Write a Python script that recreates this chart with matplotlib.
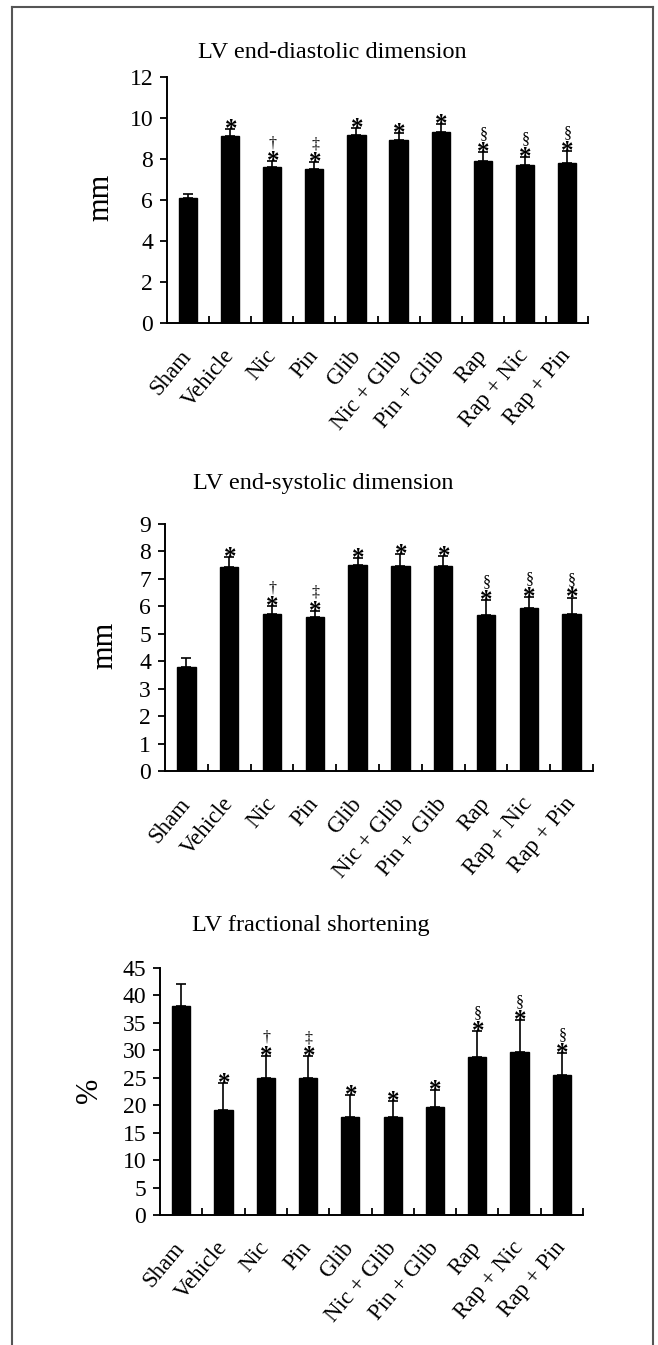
import matplotlib
matplotlib.use("Agg")
import matplotlib.pyplot as plt
from matplotlib.lines import Line2D
from matplotlib.transforms import ScaledTranslation
import numpy as np

plt.rcParams['font.family'] = ['Liberation Serif', 'DejaVu Serif']

groups = ['Sham', 'Vehicle', 'Nic', 'Pin', 'Glib', 'Nic + Glib',
          'Pin + Glib', 'Rap', 'Rap + Nic', 'Rap + Pin']

# LV end-diastolic dimension (mm)
edd_mean = [6.1, 9.1, 7.6, 7.5, 9.15, 8.95, 9.3, 7.9, 7.7, 7.8]
edd_err = [0.2, 0.35, 0.28, 0.35, 0.35, 0.33, 0.4, 0.45, 0.38, 0.6]

# LV end-systolic dimension (mm)
esd_mean = [3.8, 7.42, 5.72, 5.6, 7.49, 7.48, 7.47, 5.67, 5.94, 5.72]
esd_err = [0.33, 0.38, 0.28, 0.24, 0.27, 0.44, 0.38, 0.55, 0.39, 0.6]

# LV fractional shortening (%)
fs_mean = [38.1, 19.1, 25.0, 25.0, 17.8, 17.8, 19.65, 28.7, 29.65, 25.5]
fs_err = [3.9, 4.9, 4.0, 3.9, 4.0, 3.0, 3.15, 4.8, 5.95, 4.0]

# significance marks above each bar (lower, upper)
star = ['', '*', '*', '*', '*', '*', '*', '*', '*', '*']
extra = ['', '', '\u2020', '\u2021', '', '', '', '\u00a7', '\u00a7', '\u00a7']

W, H = 658, 1345
fig = plt.figure(figsize=(W / 100, H / 100), dpi=100)


def px(x0, y0, x1, y1):
    # pixel box -> figure fraction [left, bottom, width, height]
    return [x0 / W, 1 - y1 / H, (x1 - x0) / W, (y1 - y0) / H]


def panel(box, mean, err, ymax, ystep, title, title_xy, ylab, ylab_xy):
    ax = fig.add_axes(px(*box))
    x = np.arange(len(groups))
    ax.bar(x, mean, width=0.43, color='black', edgecolor='black', zorder=2)
    ax.errorbar(x, mean, yerr=[np.zeros(len(mean)), err], fmt='none',
                ecolor='black', elinewidth=1.2, capsize=3.5, capthick=1.2, zorder=1)
    for i in range(len(groups)):
        top = mean[i] + err[i]
        if star[i]:
            ax.annotate(star[i], (i, top), xytext=(0.5, -5), textcoords='offset points',
                        ha='center', va='baseline', fontsize=18, fontweight='bold')
        if extra[i]:
            ax.annotate(extra[i], (i, top), xytext=(0.5, 10), textcoords='offset points',
                        ha='center', va='baseline', fontsize=11.5)
    ax.set_xlim(-0.5, len(groups) - 0.5)
    ax.set_ylim(0, ymax)
    ax.set_yticks(np.arange(0, ymax + 0.1, ystep))
    ax.set_xticks(x)
    ax.set_xticklabels(groups, rotation=50, ha='right', va='center',
                       rotation_mode='anchor', fontsize=16.5)
    shift = ScaledTranslation(4 / 100, 0, fig.dpi_scale_trans)
    for lab in ax.get_xticklabels():
        lab.set_transform(lab.get_transform() + shift)
    ax.set_xticks(x + 0.5, minor=True)
    ax.tick_params(axis='x', which='major', length=0, pad=21)
    ax.tick_params(axis='x', which='minor', direction='in', length=5, width=1.3)
    ax.tick_params(axis='y', direction='out', length=5, width=1.3, labelsize=17, pad=5)
    for s in ['top', 'right']:
        ax.spines[s].set_visible(False)
    for s in ['left', 'bottom']:
        ax.spines[s].set_linewidth(1.4)
    ax.set_facecolor('none')
    fig.text(title_xy[0] / W, 1 - title_xy[1] / H, title, ha='center', va='center',
             fontsize=17.5)
    fig.text(ylab_xy[0] / W, 1 - ylab_xy[1] / H, ylab, ha='center', va='center',
             rotation=90, fontsize=22)
    return ax


panel((167, 77, 588, 323), edd_mean, edd_err, 12, 2,
      'LV end-diastolic dimension', (332, 53), 'mm', (101, 197))
panel((165, 524, 593, 771), esd_mean, esd_err, 9, 1,
      'LV end-systolic dimension', (323, 484), 'mm', (105, 645))
panel((160, 968, 583, 1215), fs_mean, fs_err, 45, 5,
      'LV fractional shortening', (311, 925), '%', (89, 1090))

# outer frame of the figure panel
fc = '#555555'
fig.add_artist(Line2D([12 / W, 12 / W], [0, 1 - 7 / H], color=fc, lw=1.5))
fig.add_artist(Line2D([12 / W, 653 / W], [1 - 7 / H, 1 - 7 / H], color=fc, lw=1.5))
fig.add_artist(Line2D([653 / W, 653 / W], [0, 1 - 7 / H], color=fc, lw=1.5))

fig.savefig('out.png', dpi=100, facecolor='white')
